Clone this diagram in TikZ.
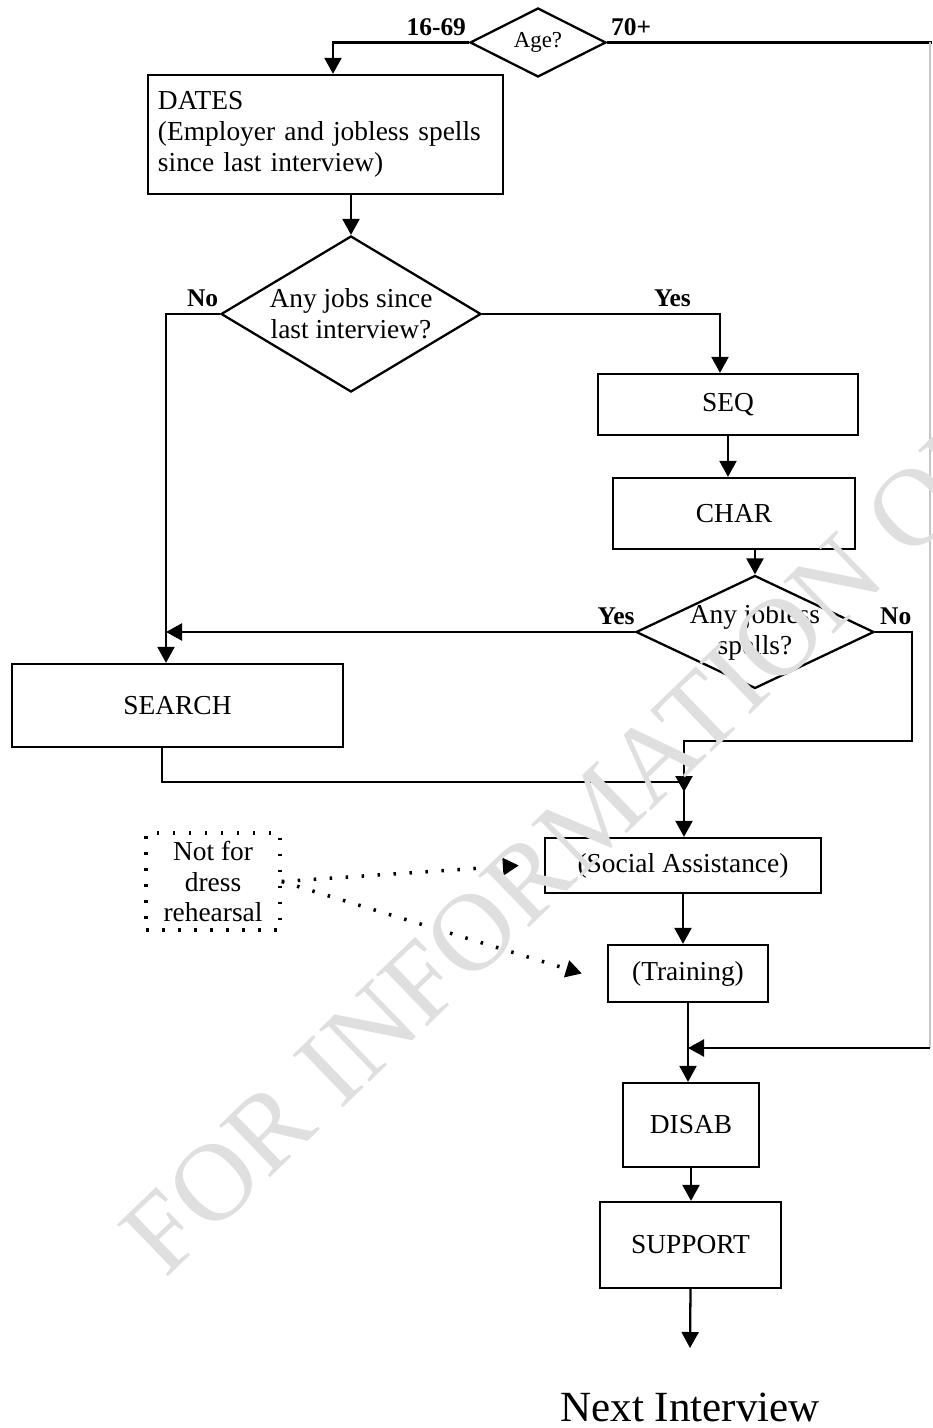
\documentclass[tikz,border=0pt]{standalone}
\usepackage{fontspec}
\setmainfont{Liberation Serif}
\usetikzlibrary{arrows.meta}
\usetikzlibrary{shapes.geometric}
\tikzset{>={Triangle[length=3.2mm, width=3.4mm]}}

\begin{document}
\begin{tikzpicture}[x=0.2mm, y=-0.2mm, line width=1.3pt,
    every node/.style={font=\fontsize{15.6}{17.6}\selectfont},
    box/.style={draw, rectangle, align=center, inner sep=0pt},
    ask/.style={draw, diamond, align=center, inner xsep=0pt, inner ysep=-2mm},
    tag/.style={font=\fontsize{14.5}{16}\selectfont\bfseries},
    hint/.style={line width=2pt, dash pattern=on 0.5mm off 2.7mm}]
    \path[use as bounding box, clip](0, 0)rectangle(932, 1428);
    \node(age)at(538, 42.5)[ask, minimum width=27.2mm, minimum height=13.8mm, shape aspect=2, font=\fontsize{13}{15}\selectfont]{Age?};
    \node(dates)at(325.5, 134.5)[box, minimum width=71mm, minimum height=23.8mm, text width=67mm, align=left]{DATES\\(Employer and jobless spells\\since last interview)};
    \node(jobs)at(351, 314)[ask, minimum width=52mm, minimum height=31.2mm, shape aspect=1.667]{Any jobs since\\last interview?};
    \node(seq)at(728, 404.5)[box, minimum width=52mm, minimum height=12.2mm]{SEQ};
    \node(char)at(734, 513.5)[box, minimum width=48.4mm, minimum height=14.2mm]{CHAR};
    \node(jobless)at(755, 632)[ask, minimum width=47.6mm, minimum height=22.6mm, shape aspect=2.1]{Any jobless\\spells?};
    \node(search)at(177.5, 705.5)[box, minimum width=66.2mm, minimum height=16.6mm]{SEARCH};
    \node(social)at(683, 865.5)[box, minimum width=55.2mm, minimum height=11mm]{(Social Assistance)};
    \node(training)at(688, 973.5)[box, minimum width=32mm, minimum height=11.4mm]{(Training)};
    \node(disab)at(691, 1125)[box, minimum width=27.2mm, minimum height=16.8mm]{DISAB};
    \node(support)at(690.5, 1245)[box, minimum width=36.2mm, minimum height=17.2mm]{SUPPORT};
    \node(note)at(213, 881.5)[box, hint, minimum width=26.8mm, minimum height=19.4mm]{Not for\\dress\\rehearsal};
    \node(next)at(690, 1407)[font=\fontsize{24.5}{28}\selectfont]{Next Interview};
    \coordinate(jy)at(166, 632);
    \coordinate(jn)at(684, 792);
    \coordinate(js)at(684, 782);
    \coordinate(jd)at(688, 1048);
    \coordinate(nx)at(690, 1348);
    \coordinate(rt)at(930, 42.5);
    \coordinate(rb)at(930, 1048);
    \draw[->](age.west)-|([xshift=1.5mm]dates.north)node[pos=0.12, above, tag]{16-69};
    \draw(age.east)--(932, 42.5)node[pos=0.074, above, tag]{70+};
    \draw[gray!45, line width=0.6pt](rt)--(rb);
    \draw[->](rb)--(jd);
    \draw[->](dates.south-|jobs.north)--(jobs.north);
    \draw[->](jobs.west)-|([xshift=-2.3mm]search.north)node[pos=0.16, above, tag]{No};
    \draw[->](jobs.east)-|([xshift=-1.6mm]seq.north)node[pos=0.4, above, tag]{Yes};
    \draw[->](seq.south)--(seq.south|-char.north);
    \draw[->](jobless.north|-char.south)--(jobless.north);
    \draw[->](jobless.west)--(jy)node[pos=0.04, above, tag]{Yes};
    \draw[->](jobless.east)-|(912, 741)node[pos=0.28, above, tag]{No}-|(jn);
    \draw([xshift=-3.1mm]search.south)|-(js);
    \draw[->](js)--(js|-social.north);
    \draw[->](social.south)--(social.south|-training.north);
    \draw[->](training.south)--(training.south|-disab.north);
    \draw[->](disab.south)--(disab.south|-support.north);
    \draw[->](support.south)--(nx);
    \draw[->, hint](note.east)--([xshift=-5mm]social.west);
    \draw[->, hint](note.east)--([xshift=-5mm]training.west);
    % stamp over the whole page
    \node(stamp)at(165, 1280)[rotate=44, anchor=base west, inner sep=0pt, text=gray!25, font=\fontsize{63}{63}\selectfont]{FOR INFORMATION ONLY};
\end{tikzpicture}
\end{document}
